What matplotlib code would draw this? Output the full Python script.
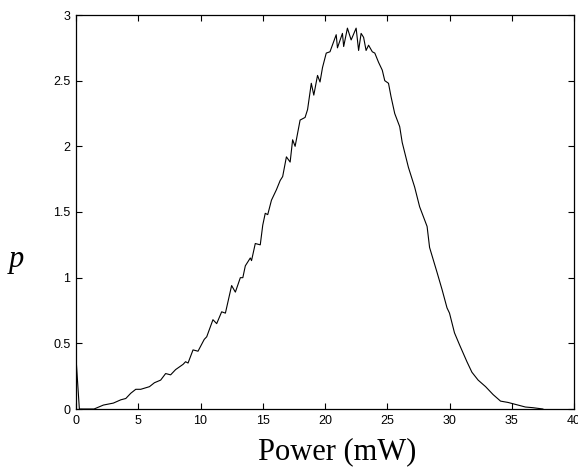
import matplotlib
matplotlib.use("Agg")
import matplotlib.pyplot as plt

# valeurs (puissance en mW, p)
power = [0, 0.27, 1.45, 2.2, 3.0, 3.6, 4.0, 4.4, 4.8, 5.2,
         5.9, 6.3, 6.8, 7.2, 7.6, 8.0, 8.6, 8.8, 9.0, 9.4,
         9.8, 10.3, 10.5, 11.0, 11.3, 11.7, 12.0, 12.5, 12.8, 13.2,
         13.4, 13.6, 14.0, 14.1, 14.4, 14.8, 15.0, 15.2, 15.4, 15.7,
         16.1, 16.4, 16.6, 16.9, 17.2, 17.4, 17.6, 18.0, 18.4, 18.6,
         18.9, 19.1, 19.4, 19.6, 19.8, 20.1, 20.4, 20.9, 21.0, 21.4,
         21.5, 21.8, 22.1, 22.5, 22.7, 22.9, 23.1, 23.3, 23.5, 23.8,
         24.0, 24.3, 24.6, 24.8, 25.1, 25.3, 25.6, 26.0, 26.2, 26.7,
         27.2, 27.6, 28.2, 28.4, 29.0, 29.4, 29.8, 30.0, 30.4, 30.8,
         31.4, 31.8, 32.3, 32.9, 33.5, 34.1, 34.7, 35.1, 36.1, 36.7,
         37.5]
p = [0.39, 0, 0, 0.03, 0.045, 0.07, 0.08, 0.12, 0.15, 0.15,
     0.17, 0.2, 0.22, 0.27, 0.26, 0.3, 0.34, 0.36, 0.35, 0.45,
     0.44, 0.53, 0.55, 0.68, 0.65, 0.74, 0.73, 0.94, 0.89, 1.0,
     1.0, 1.09, 1.15, 1.13, 1.26, 1.25, 1.40, 1.49, 1.48, 1.59,
     1.67, 1.74, 1.77, 1.92, 1.88, 2.05, 2.0, 2.2, 2.22, 2.28,
     2.48, 2.39, 2.54, 2.49, 2.6, 2.71, 2.72, 2.85, 2.75, 2.86,
     2.76, 2.9, 2.81, 2.9, 2.73, 2.86, 2.83, 2.73, 2.77, 2.72,
     2.71, 2.64, 2.58, 2.5, 2.48, 2.38, 2.25, 2.15, 2.03, 1.84,
     1.69, 1.54, 1.39, 1.23, 1.04, 0.91, 0.77, 0.73, 0.58, 0.49,
     0.36, 0.28, 0.22, 0.17, 0.11, 0.06, 0.05, 0.04, 0.015, 0.01,
     0.0]

xticks = [0, 5, 10, 15, 20, 25, 30, 35, 40]
yticks = [0, 0.5, 1, 1.5, 2, 2.5, 3]
yticklabels = ['0', '0.5', '1', '1.5', '2', '2.5', '3']

fig = plt.figure(figsize=(5.78, 4.72), dpi=100)
ax = fig.add_axes([76/578, 63/472, 498/578, 394/472])

ax.plot(power, p, color='black', linewidth=0.8)

ax.set_xlim(0, 40)
ax.set_ylim(0, 3)
ax.set_xticks(xticks)
ax.set_xticklabels([str(v) for v in xticks])
ax.set_yticks(yticks)
ax.set_yticklabels(yticklabels)
ax.tick_params(direction='in', top=True, right=True, length=4, width=0.8,
               labelsize=9, pad=4)
for lab in ax.get_xticklabels() + ax.get_yticklabels():
    lab.set_fontfamily('Liberation Sans')
for s in ax.spines.values():
    s.set_linewidth(0.9)

# étiquettes des axes
fig.text(337/578, 1 - 452/472, 'Power (mW)', ha='center', va='center',
         fontsize=22, family='Liberation Serif')
fig.text(16/578, 1 - 260/472, 'p', ha='center', va='center',
         fontsize=22, family='Liberation Serif', style='italic')

fig.savefig('out.png', dpi=100)
